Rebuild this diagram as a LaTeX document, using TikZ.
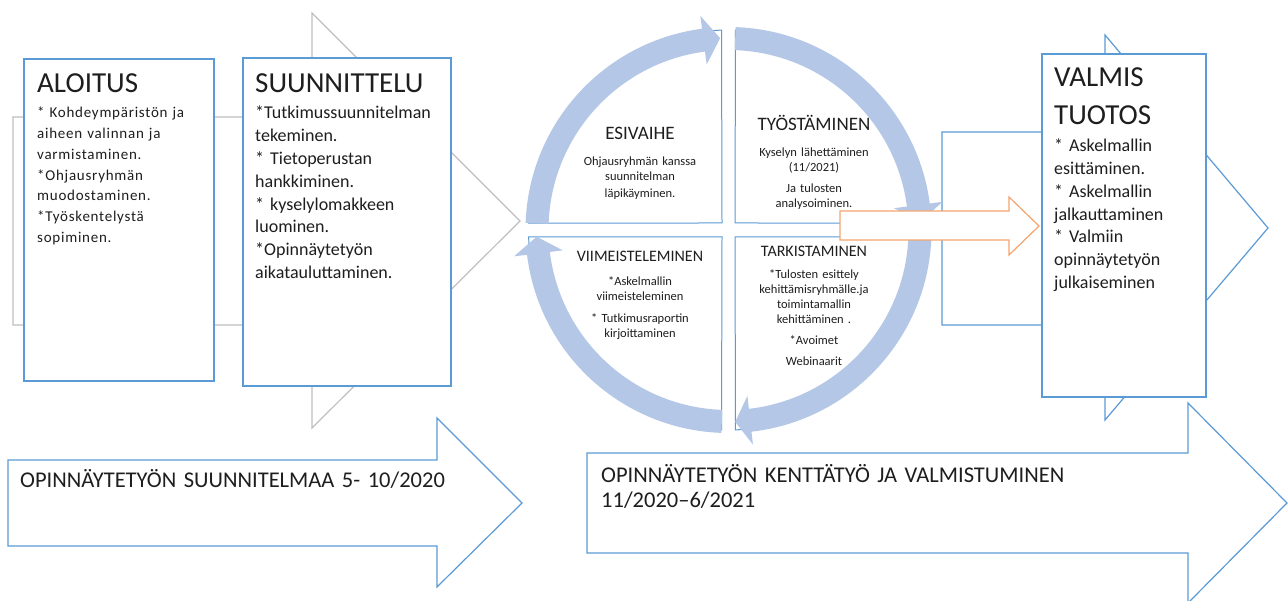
\documentclass[tikz,border=0pt]{standalone}
\usepackage{fontspec}
\setmainfont{Carlito}
\definecolor{lineblue}{RGB}{91,155,213}
\definecolor{ringblue}{RGB}{180,199,231}
\definecolor{arrowgray}{RGB}{191,191,191}
\definecolor{arroworange}{RGB}{244,164,110}
\definecolor{textdark}{RGB}{30,30,30}

\tikzset{
  stagebox/.style={draw=lineblue, line width=1.3pt, fill=white},
  blockarrow/.style={draw=lineblue, line width=1.2pt, fill=white},
  stagetitle/.style={anchor=base west, inner sep=0pt, text=textdark, align=left, text width=150pt,
    font=\fontsize{29}{38}\selectfont},
  stagetext/.style={anchor=base west, inner sep=0pt, text=textdark, align=left, text width=190pt},
  quarter/.style={draw=lineblue, line width=1pt, fill=white},
  phasetitle/.style={anchor=base, inner sep=0pt, text=textdark},
  phasetext/.style={anchor=base, inner sep=0pt, text=textdark, align=center, text width=160pt,
    font=\fontsize{12.5}{15}\selectfont},
  periodtext/.style={anchor=base west, inner sep=0pt, text=textdark, align=left, text width=560pt,
    font=\fontsize{22.5}{25}\selectfont},
}

% one part of the ring: start angle, base of the head, tip
\newcommand{\ringarrow}[3]{%
  \fill[ringblue] (#1:180) arc[start angle=#1, end angle=#2, radius=180] -- (#2:167) -- (#3:192)
    -- (#2:216) -- (#2:203) arc[start angle=#2, end angle=#1, radius=203] -- cycle;}

\begin{document}
\begin{tikzpicture}[x=1pt, y=-1pt]
\useasboundingbox (0,0) rectangle (1288,601);
\fill[white] (0,0) rectangle (1288,601);

% gray arrow behind the first two stages
\draw[arrowgray, line width=1.2pt, fill=white] (13,117) -- (312,117) -- (312,13) -- (520,221)
  -- (312,428) -- (312,325) -- (13,325) -- cycle;

% aloitus
\draw[stagebox] (24,59) rectangle (214,381);
\node[stagetitle] (aloitus) at (37,93) {ALOITUS};
\node[stagetext, font=\addfontfeature{LetterSpace=5}\fontsize{15}{20.7}\selectfont] (aloitusteksti) at (37,118)
  {{*} Kohdeympäristön ja\\ aiheen valinnan ja\\ varmistaminen.\\ {*}Ohjausryhmän\\ muodostaminen.\\
   {*}Työskentelystä\\ sopiminen.};

% suunnittelu
\draw[stagebox] (243,58) rectangle (451,386);
\node[stagetitle] (suunnittelu) at (255,93) {SUUNNITTELU};
\node[stagetext, font=\fontsize{18}{22.8}\selectfont] (suunnitteluteksti) at (255,119)
  {{*}Tutkimussuunnitelman\\ tekeminen.\\ {*} Tietoperustan\\ hankkiminen.\\ {*} kyselylomakkeen\\ luominen.\\
   {*}Opinnäytetyön\\ aikatauluttaminen.};

% blue arrow behind the last stage
\draw[blockarrow] (942,132) -- (1105,132) -- (1105,35) -- (1268,228) -- (1105,420) -- (1105,325)
  -- (942,325) -- cycle;

% valmis tuotos
\draw[stagebox] (1042,54) rectangle (1206,397);
\node[stagetitle] (valmis) at (1054,87) {VALMIS\\ TUOTOS};
\node[stagetext, text width=150pt, font=\fontsize{18}{22.7}\selectfont] (valmisteksti) at (1054,152)
  {{*} Askelmallin\\ esittäminen.\\ {*} Askelmallin\\ jalkauttaminen\\ {*} Valmiin\\ opinnäytetyön\\ julkaiseminen};

% time periods
\draw[blockarrow] (8,460) -- (437,460) -- (437,418) -- (522,503) -- (437,587) -- (437,546)
  -- (8,546) -- cycle;
\node[periodtext] (suunnitelmavaihe) at (20,487) {OPINNÄYTETYÖN SUUNNITELMAA 5- 10/2020};
\draw[blockarrow] (587,453) -- (1188,453) -- (1188,403) -- (1287,503) -- (1188,603) -- (1188,553)
  -- (587,553) -- cycle;
\node[periodtext] (kenttavaihe) at (601,482) {OPINNÄYTETYÖN KENTTÄTYÖ JA VALMISTUMINEN\\ 11/2020–6/2021};

% cycle
\begin{scope}[shift={(728.5,230)}]
  \draw[quarter] (-6.5,-7) -- (182:200) arc[start angle=182, end angle=268, radius=200] -- cycle;
  \draw[quarter] (6.5,-7) -- (272:200) arc[start angle=272, end angle=358, radius=200] -- cycle;
  \draw[quarter] (6.5,7) -- (2:200) arc[start angle=2, end angle=88, radius=200] -- cycle;
  \draw[quarter] (-6.5,7) -- (92:200) arc[start angle=92, end angle=178, radius=200] -- cycle;
  \ringarrow{182}{262.5}{267.5}
  \ringarrow{272}{352.5}{357.5}
  \ringarrow{2}{83.5}{88}
  \ringarrow{92}{173}{178}
\end{scope}

\node[phasetitle, font=\fontsize{19}{22}\selectfont] (esivaihe) at (640,140) {ESIVAIHE};
\node[phasetext] (esivaiheteksti) at (640,166) {Ohjausryhmän kanssa\\ suunnitelman\\[2pt] läpikäyminen.};
\node[phasetitle, font=\fontsize{19}{22}\selectfont] (tyostaminen) at (814,131) {TYÖSTÄMINEN};
\node[phasetext] (tyostaminenteksti) at (814,157) {Kyselyn lähettäminen\\ (11/2021)\\[6pt] Ja tulosten\\ analysoiminen.};
\node[phasetitle, font=\fontsize{16}{19}\selectfont] (viimeisteleminen) at (640,262) {VIIMEISTELEMINEN};
\node[phasetext] (viimeistelemineteksti) at (640,286) {{*}Askelmallin\\ viimeisteleminen\\[7pt] {*} Tutkimusraportin\\ kirjoittaminen};
\node[phasetitle, font=\fontsize{16}{19}\selectfont] (tarkistaminen) at (814,257) {TARKISTAMINEN};
\node[phasetext] (tarkistaminenteksti) at (814,279) {{*}Tulosten esittely\\ kehittämisryhmälle.ja\\ toimintamallin\\ kehittäminen .\\[6pt] {*}Avoimet\\[6pt] Webinaarit};

% orange arrow out of the cycle
\draw[arroworange, line width=1.2pt, fill=white] (840,211) -- (1009,211) -- (1009,197) -- (1039,226)
  -- (1009,255) -- (1009,240) -- (840,240) -- cycle;
\end{tikzpicture}
\end{document}
